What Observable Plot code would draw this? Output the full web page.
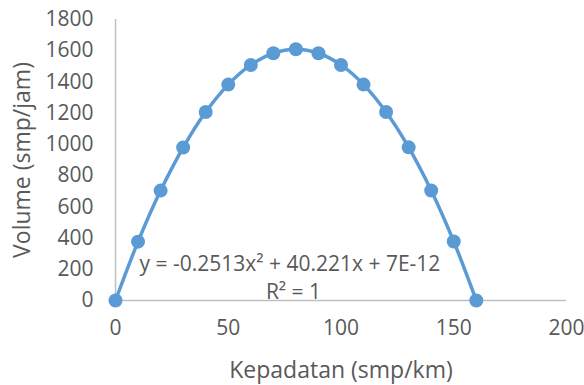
<!DOCTYPE html>
<html>
<head>
<meta charset="utf-8">
<script src="https://cdn.jsdelivr.net/npm/d3@7"></script>
<script src="https://cdn.jsdelivr.net/npm/@observablehq/plot@0.6"></script>
<style>
  html, body { margin: 0; padding: 0; background: #fff; }
</style>
</head>
<body>
<div id="chart"></div>
<script>
const kepadatan = [0, 10, 20, 30, 40, 50, 60, 70, 80, 90, 100, 110, 120, 130, 140, 150, 160];
const volume = [0, 377, 704, 980, 1207, 1383, 1509, 1584, 1609, 1584, 1509, 1383, 1207, 981, 705, 378, 0];
const xTicks = [0, 50, 100, 150, 200];
const yTicks = [0, 200, 400, 600, 800, 1000, 1200, 1400, 1600, 1800];
const equation = "y = -0.2513x² + 40.221x + 7E-12";
const rSquared = "R² = 1";
const xTitle = "Kepadatan (smp/km)";
const yTitle = "Volume (smp/jam)";

const data = kepadatan.map((x, i) => ({x, y: volume[i]}));
const blue = "#5B9BD5";
const textColor = "#595959";
const axisColor = "#BFBFBF";

const chart = Plot.plot({
  width: 584,
  height: 385,
  marginLeft: 115,
  marginRight: 18,
  marginTop: 19,
  marginBottom: 85,
  style: {fontFamily: "'Open Sans', sans-serif", fontSize: "21px", color: textColor, background: "#fff"},
  x: {domain: [0, 200], ticks: xTicks, tickSize: 0, tickPadding: 20, tickFormat: d3.format("d"), label: null},
  y: {domain: [0, 1800], ticks: yTicks, tickSize: 0, tickPadding: 22, tickFormat: d3.format("d"), label: null},
  marks: [
    Plot.ruleY([0], {stroke: axisColor, strokeWidth: 1.5}),
    Plot.ruleX([0], {stroke: axisColor, strokeWidth: 1.5}),
    Plot.line(data, {x: "x", y: "y", stroke: blue, strokeWidth: 3.5, curve: "catmull-rom"}),
    Plot.dot(data, {x: "x", y: "y", r: 7, fill: blue, stroke: "none"}),
    Plot.text([equation], {text: d => d, frameAnchor: "bottom-left", textAnchor: "start", lineAnchor: "bottom", dx: 24, dy: -30, fill: textColor, fontSize: 21}),
    Plot.text([rSquared], {text: d => d, frameAnchor: "bottom-left", textAnchor: "middle", lineAnchor: "bottom", dx: 178, dy: -2, fill: textColor, fontSize: 21}),
    Plot.text([xTitle], {text: d => d, frameAnchor: "bottom", textAnchor: "middle", lineAnchor: "middle", dy: 70, fill: textColor, fontSize: 23}),
    Plot.text([yTitle], {text: d => d, frameAnchor: "left", textAnchor: "middle", rotate: -90, lineAnchor: "middle", dx: -93, fill: textColor, fontSize: 23})
  ]
});
document.getElementById("chart").appendChild(chart);
</script>
</body>
</html>
